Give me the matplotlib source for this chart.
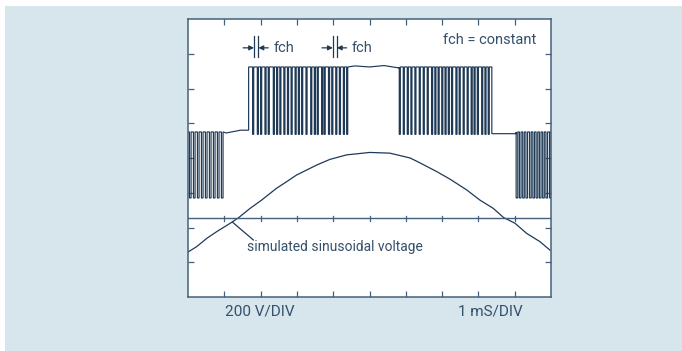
import matplotlib
matplotlib.use("Agg")
import matplotlib.pyplot as plt
from matplotlib.patches import Rectangle

# scope trace, everything in graticule divisions (10 x 8)
left_dips = [0.04, 0.15, 0.26, 0.37, 0.48, 0.59, 0.70, 0.81, 0.92]
high1_dips = [1.78, 1.91, 2.00, 2.12, 2.21, 2.35, 2.44, 2.53, 2.64, 2.74, 2.84,
              2.95, 3.04, 3.13, 3.25, 3.38, 3.48, 3.56, 3.68, 3.75, 3.87, 3.96,
              4.07, 4.17, 4.28, 4.37]
high2_dips = [5.82, 5.93, 6.04, 6.14, 6.25, 6.37, 6.48, 6.59, 6.71, 6.80, 6.89,
              6.99, 7.08, 7.17, 7.26, 7.38, 7.47, 7.58, 7.69, 7.80, 7.88, 7.97,
              8.09, 8.18, 8.27]
right_dips = [9.04, 9.13, 9.22, 9.31, 9.41, 9.50, 9.59, 9.68, 9.77, 9.86, 9.96]

level_high = 6.62
level_mid = 4.75
level_low = 2.85
level_dip_high = 4.68

rise_x = 1.67
fall_x = 8.37

sine_x = [0.01, 0.24, 0.52, 0.79, 1.16, 1.39, 1.71, 2.03, 2.44, 2.72, 2.99, 3.55,
          3.91, 4.37, 5.01, 5.56, 6.12, 6.39, 6.85, 7.22, 7.68, 8.04, 8.41, 8.69,
          9.01, 9.33, 9.70, 9.97]
sine_y = [1.30, 1.45, 1.69, 1.88, 2.12, 2.28, 2.55, 2.79, 3.13, 3.32, 3.51, 3.80,
          3.96, 4.09, 4.16, 4.14, 4.00, 3.86, 3.61, 3.39, 3.08, 2.79, 2.55, 2.29,
          2.12, 1.83, 1.59, 1.35]

zero_level = 2.28

navy = "#1f3a56"
frame = "#45607a"
txt = "#34506a"
bg = "#d7e5ed"


def add_dips(xs, ys, dips, base, bottom, width):
    for d in dips:
        xs += [d, d, d + width, d + width]
        ys += [base, bottom, bottom, base]


tx, ty = [0.0], [level_mid]
add_dips(tx, ty, left_dips, level_mid, level_low, 0.045)
tx += [1.05, 1.45, rise_x, rise_x]
ty += [level_mid - 0.03, level_mid + 0.05, level_mid + 0.05, level_high]
add_dips(tx, ty, high1_dips, level_high, level_dip_high, 0.03)
tx += [4.6, 5.0, 5.4, 5.82]
ty += [level_high + 0.03, level_high, level_high + 0.04, level_high - 0.03]
add_dips(tx, ty, high2_dips, level_high, level_dip_high, 0.03)
tx += [fall_x, fall_x, 9.04]
ty += [level_high, level_dip_high + 0.02, level_dip_high + 0.02]
add_dips(tx, ty, right_dips, level_mid, level_low, 0.045)
tx += [10.0]
ty += [level_mid]

fig = plt.figure(figsize=(6.82, 3.51), dpi=100)
fig.patch.set_facecolor("white")
fig.patches.append(Rectangle((5 / 682, 0), 1, 345 / 351, transform=fig.transFigure,
                             facecolor=bg, edgecolor="none", zorder=-10))

ax = fig.add_axes([188 / 682, 54 / 351, 363 / 682, 278 / 351])
ax.set_facecolor("white")
ax.set_xlim(0, 10)
ax.set_ylim(0, 8)

ax.plot(tx, ty, color=navy, lw=0.85, solid_joinstyle="miter")
ax.plot(sine_x, sine_y, color=navy, lw=0.9)

# centre graticule line with its small ticks
ax.axhline(zero_level, color=frame, lw=1.0)
for k in range(1, 10):
    ax.plot([k, k], [zero_level - 0.08, zero_level + 0.05], color=frame, lw=0.9)

ax.set_xticks(range(1, 10))
ax.set_yticks(range(1, 8))
ax.tick_params(direction="in", length=4, width=0.9, color=frame,
               top=True, right=True, labelbottom=False, labelleft=False)
for s in ax.spines.values():
    s.set_color(frame)
    s.set_linewidth(1.1)

font = dict(family="Roboto", color=txt)

ax.text(7.02, 7.40, "fch = constant", va="center", ha="left", fontsize=10.5, **font)

# fch period markers
for a, b, lab in [(1.82, 1.94, 2.35), (3.99, 4.10, 4.51)]:
    for m in (a, b):
        ax.plot([m, m], [6.90, 7.51], color=navy, lw=0.9)
    ax.annotate("", xy=(a, 7.17), xytext=(a - 0.30, 7.17),
                arrowprops=dict(arrowstyle="-|>", color=navy, lw=0.9,
                                mutation_scale=7, shrinkA=0, shrinkB=0))
    ax.annotate("", xy=(b, 7.17), xytext=(b + 0.27, 7.17),
                arrowprops=dict(arrowstyle="-|>", color=navy, lw=0.9,
                                mutation_scale=7, shrinkA=0, shrinkB=0))
    ax.text(lab, 7.17, "fch", va="center", ha="left", fontsize=10.5, **font)

ax.plot([1.23, 1.80], [2.15, 1.64], color=navy, lw=0.9)
ax.text(1.62, 1.45, "simulated sinusoidal voltage", va="center", ha="left",
        fontsize=10, **font)

ax.text(1.02, -0.42, "200 V/DIV", va="center", ha="left", clip_on=False,
        fontsize=11, **font)
ax.text(7.44, -0.42, "1 mS/DIV", va="center", ha="left", clip_on=False,
        fontsize=11, **font)

fig.savefig("out.png", dpi=100, facecolor=fig.get_facecolor())
